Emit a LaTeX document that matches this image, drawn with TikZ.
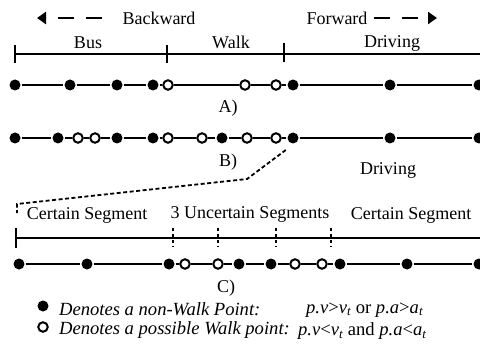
\documentclass[tikz,border=0pt]{standalone}
\usepackage{fontspec}
\setmainfont{Liberation Serif}
\usetikzlibrary{arrows.meta,positioning}

\begin{document}
\begin{tikzpicture}[
    x = 1pt, y = -1pt, % pixel grid, y down
    line width = 2.2pt, % line style
    font = \fontsize{18}{20}\selectfont,
    inner sep = 0pt
    ]

    \tikzset{nonwalk/.style={
    circle,
    fill = black,
    minimum size = 11pt
    },
    possiblewalk/.style={
    circle,
    draw = black,
    fill = white,
    line width = 2pt,
    minimum size = 9.5pt
    },
    direction/.style={
    dash pattern = on 16pt off 12pt,
    -{Triangle[length=9pt,width=12pt]}
    },
    splitmark/.style={
    line width = 1.6pt,
    dash pattern = on 3pt off 3pt
    },
    legendtext/.style={
    anchor = west,
    font = \fontsize{18.6}{20}\selectfont
    }}

    \useasboundingbox (0,0) rectangle (480,353);

    % direction labels
    \node (back) at (159,18) {Backward};
    \node (fwd) at (337,18) {Forward};
    \coordinate (backtip) at (37,18);
    \coordinate (fwdtip) at (437,18);
    \draw[direction, shorten <= 19pt] (back.west) -- (backtip);
    \draw[direction, shorten <= 5pt] (fwd.east) -- (fwdtip);

    % ground truth segments
    \coordinate (sA0) at (15,54);
    \coordinate (sA1) at (167,54);
    \coordinate (sA2) at (284,54);
    \coordinate (sA3) at (480,54);
    \draw (sA0) -- (sA3);
    \draw (sA0) ++(0,-9) -- ++(0,18);
    \draw (sA1) ++(0,-9) -- ++(0,18);
    \draw (sA2) ++(0,-11) -- ++(0,19);
    \node (bus) at (88,43) {Bus};
    \node (walk) at (231,42) {Walk};
    \node (drive) at (392,43) {Driving};

    % A)
    \node[nonwalk] (a1) at (15,85) {};
    \node[nonwalk] (a2) at (70,85) {};
    \node[nonwalk] (a3) at (117,85) {};
    \node[nonwalk] (a4) at (153,85) {};
    \node[possiblewalk] (a5) at (168,85) {};
    \node[possiblewalk] (a6) at (245,85) {};
    \node[possiblewalk] (a7) at (276,85) {};
    \node[nonwalk] (a8) at (293,85) {};
    \node[nonwalk] (a9) at (390,85) {};
    \node[nonwalk] (a10) at (479,85) {};
    \draw (a1) -- (a2) -- (a3) -- (a4) -- (a5) -- (a6) -- (a7) -- (a8) -- (a9) -- (a10);
    \node (capA) at (228,108) {A)};

    % B)
    \node[nonwalk] (b1) at (15,138) {};
    \node[nonwalk] (b2) at (58,138) {};
    \node[possiblewalk] (b3) at (78,138) {};
    \node[possiblewalk] (b4) at (95,138) {};
    \node[nonwalk] (b5) at (117,138) {};
    \node[nonwalk] (b6) at (153,138) {};
    \node[possiblewalk] (b7) at (168,138) {};
    \node[possiblewalk] (b8) at (202,138) {};
    \node[nonwalk] (b9) at (222,138) {};
    \node[possiblewalk] (b10) at (247,138) {};
    \node[possiblewalk] (b11) at (276,138) {};
    \node[nonwalk] (b12) at (293,138) {};
    \node[nonwalk] (b13) at (390,138) {};
    \node[nonwalk] (b14) at (479,138) {};
    \draw (b1) -- (b2) -- (b3) -- (b4) -- (b5) -- (b6) -- (b7) -- (b8) -- (b9) -- (b10) -- (b11) -- (b12) -- (b13) -- (b14);
    \node (capB) at (228,162) {B)};
    \node (driveB) at (388,170) {Driving};

    % zoom into the walk part
    \coordinate (bend) at (247,179);
    \coordinate (corner) at (17,204);
    \coordinate (zoomend) at (17,213);
    \draw[line width = 1.8pt, dash pattern = on 4pt off 2.5pt, shorten <= 9pt] (b12.south) -- (bend) -- (corner) -- (zoomend);

    % C)
    \node (certL) at (87,215) {Certain Segment};
    \node (uncert) at (250,214) {3 Uncertain Segments};
    \node (certR) at (411,215) {Certain Segment};
    \coordinate (sC0) at (16,238);
    \coordinate (sC1) at (173,238);
    \coordinate (sC2) at (218,238);
    \coordinate (sC3) at (276,238);
    \coordinate (sC4) at (331,238);
    \coordinate (sC5) at (480,238);
    \draw (sC0) -- (sC5);
    \draw (sC0) ++(0,-10) -- ++(0,20);
    \draw[splitmark] (sC1) ++(0,-10) -- ++(0,19);
    \draw[splitmark] (sC2) ++(0,-10) -- ++(0,19);
    \draw[splitmark] (sC3) ++(0,-10) -- ++(0,19);
    \draw[splitmark] (sC4) ++(0,-10) -- ++(0,19);

    \node[nonwalk] (c1) at (19,264) {};
    \node[nonwalk] (c2) at (87,264) {};
    \node[nonwalk] (c3) at (169,264) {};
    \node[possiblewalk] (c4) at (185,264) {};
    \node[possiblewalk] (c5) at (218,264) {};
    \node[nonwalk] (c6) at (239,264) {};
    \node[nonwalk] (c7) at (271,264) {};
    \node[possiblewalk] (c8) at (295,264) {};
    \node[possiblewalk] (c9) at (322,264) {};
    \node[nonwalk] (c10) at (340,264) {};
    \node[nonwalk] (c11) at (407,264) {};
    \node[nonwalk] (c12) at (479,264) {};
    \draw (c1) -- (c2) -- (c3) -- (c4) -- (c5) -- (c6) -- (c7) -- (c8) -- (c9) -- (c10) -- (c11) -- (c12);
    \node (capC) at (226,288) {C)};

    % legend
    \node[nonwalk] (keyA) at (43,306) {};
    \node[legendtext] (keyAtext) at (58,309) {\itshape Denotes a non-Walk Point:};
    \node[legendtext] (keyAcond) at (305,310) {{\itshape p.v}>{\itshape v}\textsubscript{\itshape t} or {\itshape p.a}>{\itshape a}\textsubscript{\itshape t}};
    \node[possiblewalk] (keyB) at (43,327) {};
    \node[legendtext] (keyBtext) at (58,330) {\itshape Denotes a possible Walk point:};
    \node[legendtext] (keyBcond) at (297,331) {{\itshape p.v}<{\itshape v}\textsubscript{\itshape t} and {\itshape p.a}<{\itshape a}\textsubscript{\itshape t}};
\end{tikzpicture}
\end{document}
